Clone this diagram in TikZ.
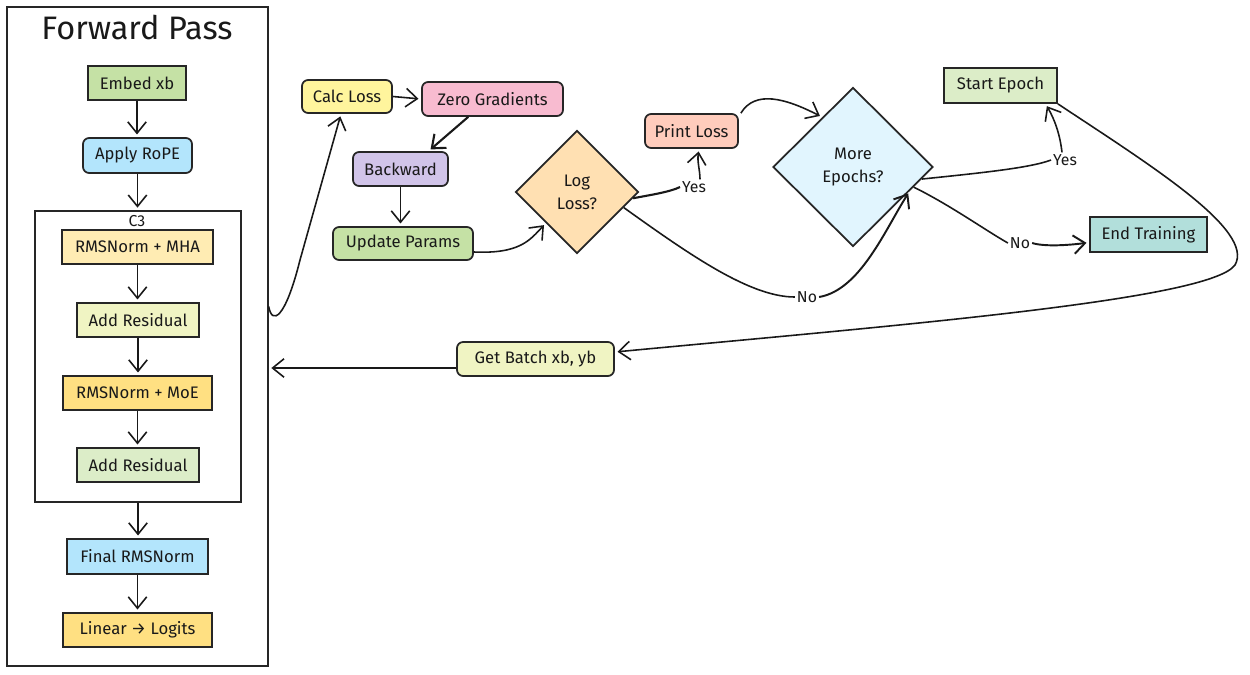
\documentclass[tikz,border=0pt]{standalone}
\usepackage{fontspec}
\setmainfont{Fira Sans}
\usetikzlibrary{arrows.meta,shapes.geometric,calc}
\definecolor{cEmbed}{HTML}{C5E1A5}
\definecolor{cBlue}{HTML}{B3E5FC}
\definecolor{cMHA}{HTML}{FFECB3}
\definecolor{cResA}{HTML}{F0F4C3}
\definecolor{cYel}{HTML}{FFE082}
\definecolor{cResB}{HTML}{DCEDC8}
\definecolor{cCalc}{HTML}{FFF59D}
\definecolor{cZero}{HTML}{F8BBD0}
\definecolor{cBack}{HTML}{D1C4E9}
\definecolor{cLog}{HTML}{FFE0B2}
\definecolor{cPrint}{HTML}{FFCCBC}
\definecolor{cMore}{HTML}{E1F5FE}
\definecolor{cEnd}{HTML}{B2DFDB}
\begin{document}
\begin{tikzpicture}[x=0.02cm,y=-0.02cm,
  sz/.style 2 args={minimum width=#1*0.02cm, minimum height=#2*0.02cm},
  box/.style={draw=black!85, line width=1pt, inner sep=0pt, text=black!90,
    font=\fontsize{9.5}{11}\selectfont},
  rbox/.style={box, rounded corners=3.5pt},
  dia/.style={diamond, draw=black!85, line width=1pt, inner sep=0pt, align=center,
    text=black!90, font=\fontsize{9.5}{13}\selectfont},
  frame/.style={draw=black!85, line width=0.8pt, inner sep=0pt},
  conn/.style={line width=0.9pt, draw=black!90, shorten >=1.5pt,
    -{Straight Barb[length=6.5pt,width=10.5pt]}},
  plain/.style={line width=0.9pt, draw=black!90},
  lbl/.style={font=\fontsize{9}{10}\selectfont, inner sep=1pt, text=black!90}
]
\useasboundingbox (0,0) rectangle (1250,674);
\fill[white] (0,0) rectangle (1250,674);

% ---------- Forward pass panel ----------
\node[frame, sz={261}{659}] (fp) at (137.5,336.5) {};
\node[font=\fontsize{18.5}{20}\selectfont, text=black!90] (title) at (137,27) {Forward Pass};
\node[frame, sz={206}{291}] (c3) at (138,356.5) {};
\node[lbl] (c3l) at (137,221) {C3};

\node[box, fill=cEmbed, sz={98}{34}] (embed) at (137,83) {Embed xb};
\node[rbox, fill=cBlue, sz={109}{35}] (rope) at (137.5,155.5) {Apply RoPE};
\node[box, fill=cMHA, sz={151}{34}] (mha) at (137.5,247) {RMSNorm + MHA};
\node[box, fill=cResA, sz={122}{34}] (res1) at (138,320) {Add Residual};
\node[box, fill=cYel, sz={149}{34}] (moe) at (137.5,393) {RMSNorm + MoE};
\node[box, fill=cResB, sz={122}{34}] (res2) at (138,465) {Add Residual};
\node[box, fill=cBlue, sz={141}{35}] (final) at (137.5,556.5) {Final RMSNorm};
\node[box, fill=cYel, sz={149}{34}] (linear) at (137.5,630) {Linear \textrightarrow{} Logits};

\draw[conn] (embed.south) -- (embed.south |- rope.north);
\draw[conn] (rope.south) -- (rope.south |- c3.north);
\draw[conn] (mha.south) -- (mha.south |- res1.north);
\draw[conn] (res1.south) -- (res1.south |- moe.north);
\draw[conn] (moe.south) -- (moe.south |- res2.north);
\draw[conn] (c3.south) -- (c3.south |- final.north);
\draw[conn] (final.south) -- (final.south |- linear.north);

% ---------- Training loop ----------
\node[rbox, fill=cCalc, sz={90}{33}] (calc) at (347,96.5) {Calc Loss};
\node[rbox, fill=cZero, sz={141}{34}] (zero) at (492.5,99) {Zero Gradients};
\node[rbox, fill=cBack, sz={95}{34}] (back) at (400.5,169) {Backward};
\node[rbox, fill=cEmbed, sz={140}{33}] (update) at (403,243.5) {Update Params};
\node[dia, fill=cLog, sz={123}{123}] (logloss) at (577,192) {Log\\Loss?};
\node[rbox, fill=cPrint, sz={93}{34}] (print) at (691.5,131) {Print Loss};
\node[dia, fill=cMore, sz={160}{159}] (more) at (853,167) {More\\Epochs?};
\node[box, fill=cResB, sz={113}{35}] (start) at (1000.5,85.5) {Start Epoch};
\node[box, fill=cEnd, sz={117}{35}] (end) at (1148.5,234.5) {End Training};
\node[rbox, fill=cResA, sz={157}{34}] (batch) at (535.5,359) {Get Batch xb, yb};

\node[lbl] (yes1) at (694,187) {Yes};
\node[lbl] (no1) at (807,297) {No};
\node[lbl] (yes2) at (1065,160) {Yes};
\node[lbl] (no2) at (1020,243) {No};

\draw[conn] (calc.east) -- (zero.west);
\draw[conn, line width=1.2pt] ($(zero.south west)!0.33!(zero.south east)$) -- ($(back.north west)!0.79!(back.north east)$);
\draw[conn] (back.south) -- (back.south |- update.north);
\draw[conn] ([yshift=-0.17cm]update.east) .. controls (520,254) and (530,240) .. ($(logloss.west)!0.5!(logloss.south)$);

\draw[plain, line width=1.2pt] ($(logloss.east)!0.1!(logloss.south)$) .. controls (650,195) and (670,192) .. (yes1.west);
\draw[conn] ([xshift=0.12cm]yes1.north) .. controls (700,170) and (697,162) .. ([xshift=0.15cm]print.south);

\draw[conn] ([xshift=0.04cm]print.north east) .. controls (755,90) and (785,98) .. ($(more.west)!0.62!(more.north)$);

\draw[plain] ($(logloss.east)!0.25!(logloss.south)$) .. controls (690,255) and (750,297) .. (no1.west);
\draw[conn, line width=1.1pt] (no1.east) .. controls (860,290) and (885,230) .. ($(more.east)!0.3!(more.south)$);

\draw[plain] ($(more.east)!0.15!(more.south)$) .. controls (980,173) and (1030,168) .. (yes2.west);
\draw[conn] ([xshift=-0.06cm]yes2.north) .. controls (1060,135) and (1055,120) .. ([xshift=0.9cm]start.south);

\draw[plain] ($(more.east)!0.25!(more.south)$) .. controls (950,205) and (985,230) .. (no2.west);
\draw[conn, line width=1.1pt] (no2.east) .. controls (1045,247) and (1070,245) .. ([yshift=-0.16cm]end.west);

\draw[conn] (start.south east) .. controls (1150,165) and (1255,230) .. (1235,265)
  .. controls (1210,300) and (900,325) .. ([yshift=0.14cm]batch.east);

\coordinate (bw) at ([yshift=-0.18cm]batch.west);
\draw[conn] (bw) -- (bw -| fp.east);

\draw[conn] ([yshift=0.6cm]fp.east) .. controls (272,325) and (285,320) .. (300,260)
  -- ([xshift=-0.12cm]calc.south);
\end{tikzpicture}
\end{document}
